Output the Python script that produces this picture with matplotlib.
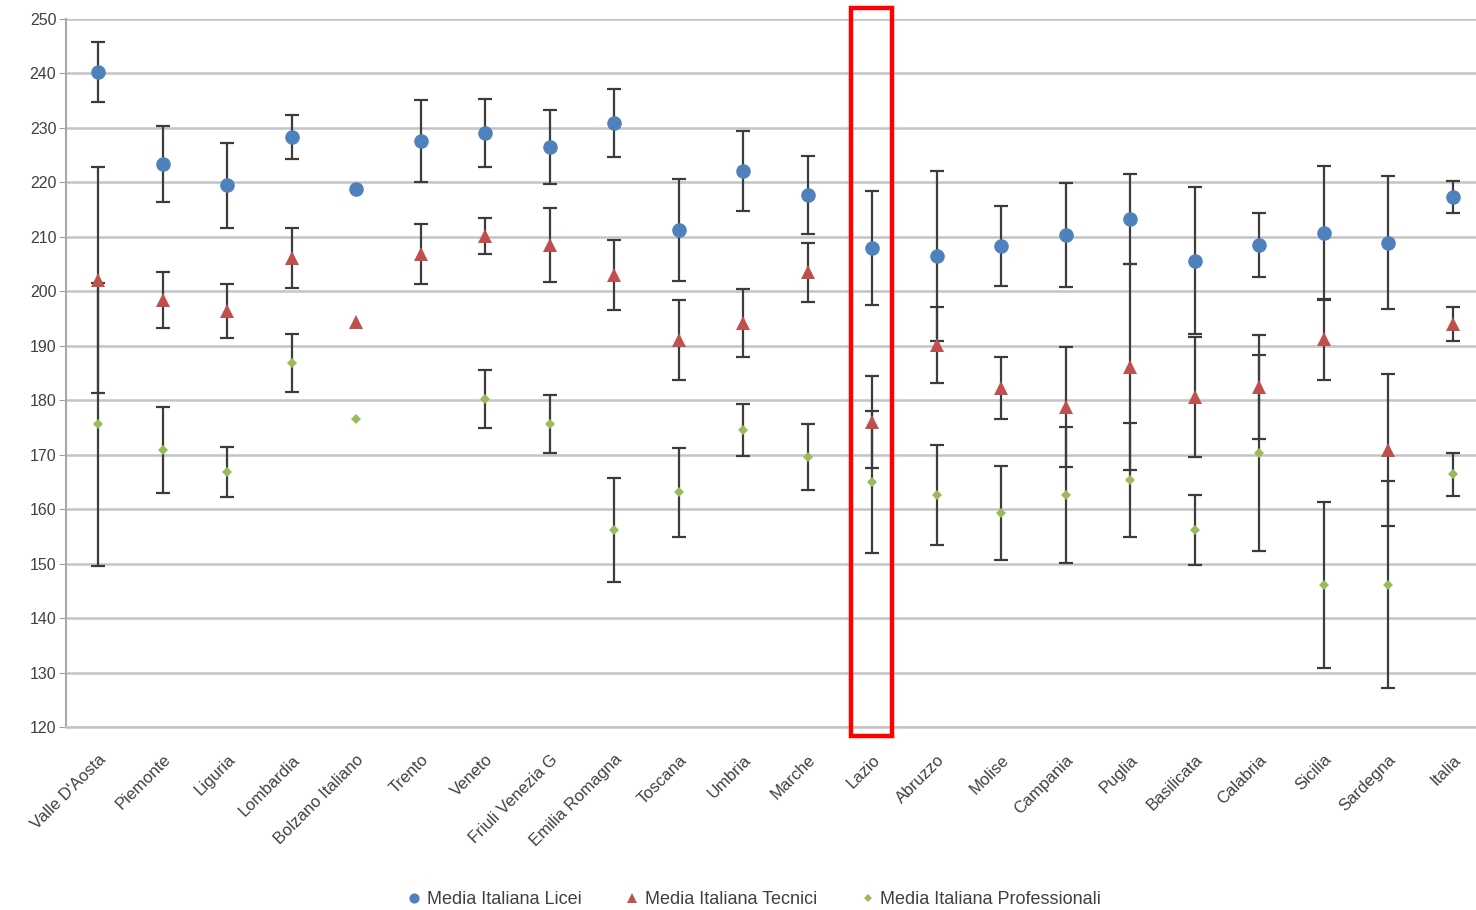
import matplotlib
matplotlib.use("Agg")
import matplotlib.pyplot as plt
import numpy as np
from matplotlib.patches import Rectangle
from matplotlib.lines import Line2D

plt.rcParams['font.family'] = ['Liberation Sans', 'DejaVu Sans']

regions = ["Valle D'Aosta", "Piemonte", "Liguria", "Lombardia", "Bolzano Italiano",
           "Trento", "Veneto", "Friuli Venezia G", "Emilia Romagna", "Toscana",
           "Umbria", "Marche", "Lazio", "Abruzzo", "Molise", "Campania", "Puglia",
           "Basilicata", "Calabria", "Sicilia", "Sardegna", "Italia"]

licei = [240.3, 223.4, 219.5, 228.3, 218.8, 227.6, 229.1, 226.5, 230.9, 211.3,
         222.1, 217.7, 208.0, 206.5, 208.3, 210.3, 213.3, 205.6, 208.5, 210.7,
         208.9, 217.3]
licei_err = [5.5, 7.0, 7.8, 4.0, np.nan, 7.5, 6.3, 6.8, 6.3, 9.4,
             7.3, 7.2, 10.5, 15.6, 7.4, 9.5, 8.2, 13.5, 5.8, 12.3,
             12.2, 3.0]

tecnici = [202.1, 198.4, 196.4, 206.1, 194.4, 206.8, 210.2, 208.5, 203.0, 191.1,
           194.2, 203.5, 176.0, 190.1, 182.2, 178.8, 186.1, 180.6, 182.4, 191.2,
           170.9, 194.0]
tecnici_err = [20.7, 5.2, 5.0, 5.5, np.nan, 5.5, 3.3, 6.8, 6.5, 7.3,
               6.3, 5.4, 8.5, 7.0, 5.7, 11.0, 19.0, 11.0, 9.5, 7.4,
               14.0, 3.1]

professionali = [175.6, 170.9, 166.8, 186.8, 176.6, np.nan, 180.2, 175.6, 156.2, 163.1,
                 174.5, 169.6, 165.0, 162.6, 159.3, 162.6, 165.4, 156.2, 170.3, 146.1,
                 146.1, 166.4]
professionali_err = [26.0, 7.9, 4.6, 5.3, np.nan, np.nan, 5.3, 5.3, 9.5, 8.2,
                     4.8, 6.0, 13.0, 9.1, 8.7, 12.5, 10.5, 6.4, 18.0, 15.3,
                     19.0, 4.0]

series_names = ["Media Italiana Licei", "Media Italiana Tecnici", "Media Italiana Professionali"]
colors = ["#4F81BD", "#C0504D", "#9BBB59"]
markers = ["o", "^", "D"]
msizes = [10.5, 9.5, 5.5]

W, H = 1476, 910
fig = plt.figure(figsize=(W / 100, H / 100), dpi=100)
ax = fig.add_axes([66 / W, 1 - 727 / H, (W - 66) / W, (727 - 19) / H])

x = np.arange(len(regions))
data = [(licei, licei_err), (tecnici, tecnici_err), (professionali, professionali_err)]
for (vals, errs), c, m, ms in zip(data, colors, markers, msizes):
    vals = np.array(vals, dtype=float)
    errs = np.array(errs, dtype=float)
    mask = ~np.isnan(errs) & ~np.isnan(vals)
    ax.errorbar(x[mask], vals[mask], yerr=errs[mask], fmt="none", ecolor="#3c3c3c",
                elinewidth=1.6, capsize=5, capthick=1.6, zorder=3)
    ax.plot(x, vals, linestyle="none", marker=m, color=c, markersize=ms, zorder=4,
            markeredgewidth=0)

ax.set_ylim(120, 250)
ax.set_yticks(np.arange(120, 251, 10))
ax.set_xlim(-0.5, (W - 66) / 64.5 - 0.5)
ax.set_xticks(x)
ax.set_xticklabels(regions, rotation=45, ha="right", va="top", rotation_mode="anchor",
                   fontsize=12, color="#404040")
ax.tick_params(axis="y", labelsize=11.5, labelcolor="#404040", length=5, color="#a0a0a0",
               pad=2)
ax.tick_params(axis="x", length=0, pad=18)
ax.grid(axis="y", color="#c4c4c4", linewidth=1.8, zorder=0)
ax.set_axisbelow(True)
for s in ["top", "right"]:
    ax.spines[s].set_visible(False)
ax.spines["left"].set_color("#a8a8a8")
ax.spines["left"].set_linewidth(1.5)
ax.spines["bottom"].set_color("#c4c4c4")
ax.spines["bottom"].set_linewidth(1.8)

handles = [Line2D([], [], linestyle="none", marker=m, color=c, markersize=ms * 0.7,
                  markeredgewidth=0)
           for c, m, ms in zip(colors, markers, msizes)]
fig.legend(handles, series_names, loc="center", bbox_to_anchor=(0.511, 1 - 900 / H),
           ncol=3, frameon=False, fontsize=13, handlelength=0.8, handletextpad=0.3,
           columnspacing=2.4, labelcolor="#404040")

# red highlight box around Lazio
fig.patches.append(Rectangle((851 / W, 1 - 736 / H), (892 - 851) / W, (736 - 8) / H,
                             transform=fig.transFigure, fill=False, edgecolor="#ff0000",
                             linewidth=3.2, zorder=10))

fig.savefig("out.png", dpi=100)
